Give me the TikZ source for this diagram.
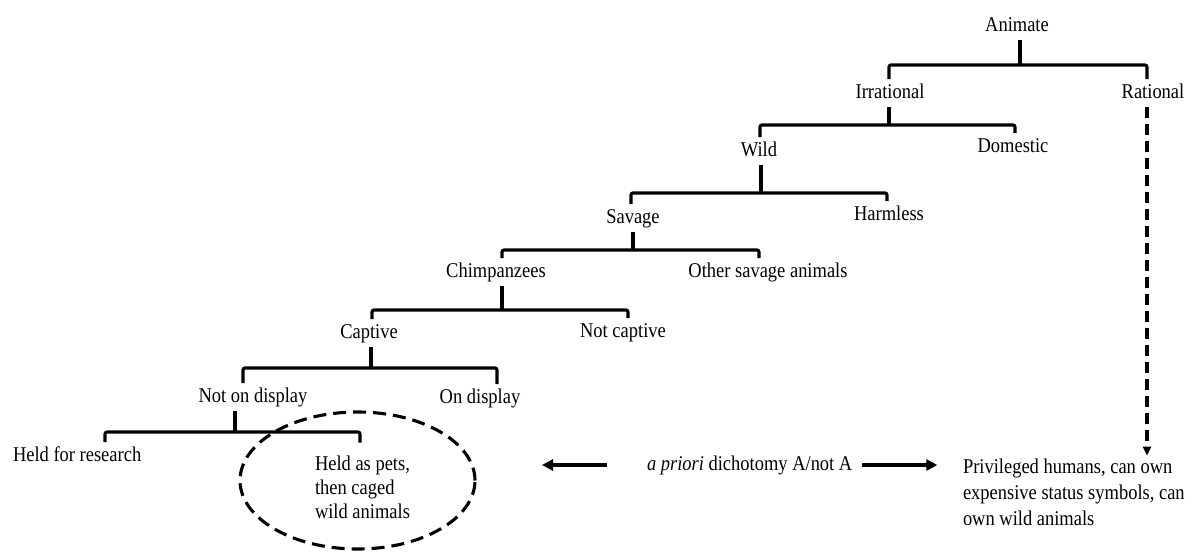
\documentclass[tikz,border=0pt]{standalone}
\usepackage{fontspec}
\setmainfont{Liberation Serif}[FakeStretch=0.88]
\usetikzlibrary{arrows.meta,shapes.geometric}
\begin{document}
\begin{tikzpicture}[x=1pt,y=-1pt,
  lab/.style={font=\fontsize{21}{25}\selectfont, inner xsep=0pt, inner ysep=4pt,
    outer sep=0pt, text height=15pt, text depth=5pt, anchor=base},
  multi/.style={font=\fontsize{21}{#1}\selectfont, align=left, inner xsep=0pt,
    outer sep=0pt, anchor=north west},
  tree/.style={line width=3.1pt, rounded corners=2pt},
  dashline/.style={line width=3.2pt, dash pattern=on 11pt off 6pt},
  dashring/.style={draw, ellipse, line width=3.1pt, dash pattern=on 13pt off 7pt,
    inner sep=0pt, minimum width=235pt, minimum height=137pt},
  bigarrow/.style={line width=3.2pt, -{Triangle[length=11pt,width=11pt]}},
  smallarrow/.style={-{Triangle[length=9pt,width=8pt]}}
]
\path[use as bounding box] (0,0) rectangle (1195,552);

% labels
\node[lab] (ani)   at (1017,31)  {Animate};
\node[lab] (irr)   at (890,98)   {Irrational};
\node[lab] (rat)   at (1153,98)  {Rational};
\node[lab] (wild)  at (759,156)  {Wild};
\node[lab] (dom)   at (1013,152) {Domestic};
\node[lab] (sav)   at (633,223)  {Savage};
\node[lab] (harm)  at (889,220)  {Harmless};
\node[lab] (chimp) at (496,277)  {Chimpanzees};
\node[lab] (osa)   at (768,277)  {Other savage animals};
\node[lab] (capt)  at (369,338)  {Captive};
\node[lab] (ncap)  at (623,337)  {Not captive};
\node[lab] (nod)   at (253,402)  {Not on display};
\node[lab] (ond)   at (480,403)  {On display};
\node[lab, anchor=base west] (hfr) at (13,461) {Held for research};
\node[multi=24, inner ysep=13pt] (hap) at (315,442.5)
  {Held as pets,\\then caged\\wild animals};
\node[lab, anchor=base west] (apr) at (647,470) {\textit{a priori} dichotomy A/not A};
\node[multi=26, inner ysep=3pt] (priv) at (963,455.7)
  {Privileged humans, can own\\expensive status symbols, can\\own wild animals};

% junctions and bar ends
\coordinate (j1) at (1020,65);  \coordinate (l1) at (889,65);  \coordinate (r1) at (1147,65);
\coordinate (j2) at (889,125);  \coordinate (l2) at (760,125); \coordinate (r2) at (1015,125);
\coordinate (j3) at (761,193);  \coordinate (l3) at (631,193); \coordinate (r3) at (887,193);
\coordinate (j4) at (633,250);  \coordinate (l4) at (502,250); \coordinate (r4) at (759,250);
\coordinate (j5) at (502,310);  \coordinate (l5) at (372,310); \coordinate (r5) at (628,310);
\coordinate (j6) at (371,368);  \coordinate (l6) at (243,368); \coordinate (r6) at (497,368);
\coordinate (j7) at (235,432);  \coordinate (l7) at (105,432); \coordinate (r7) at (360,432);

% tree connectors
\draw[tree] (ani.south -| j1) -- (j1);
\draw[tree] (irr.north -| l1) |- (j1) -| (rat.north -| r1);
\draw[tree] (irr.south -| j2) -- (j2);
\draw[tree] (wild.north -| l2) |- (j2) -| (dom.north -| r2);
\draw[tree] (wild.south -| j3) -- (j3);
\draw[tree] (sav.north -| l3) |- (j3) -| (harm.north -| r3);
\draw[tree] (sav.south -| j4) -- (j4);
\draw[tree] (chimp.north -| l4) |- (j4) -| (osa.north -| r4);
\draw[tree] (chimp.south -| j5) -- (j5);
\draw[tree] (capt.north -| l5) |- (j5) -| (ncap.north -| r5);
\draw[tree] (capt.south -| j6) -- (j6);
\draw[tree] (nod.north -| l6) |- (j6) -| (ond.north -| r6);
\draw[tree] (nod.south -| j7) -- (j7);
\draw[tree] (hfr.north -| l7) |- (j7) -| (hap.north -| r7);

% dashed rational arrow
\draw[dashline, smallarrow] (rat.south -| r1) -- (priv.north -| r1);

% dashed ellipse
\node[dashring] (ring) at (357.5,480.5) {};

% dichotomy arrows
\draw[bigarrow] ([xshift=-40pt]apr.west) -- ([xshift=-105pt]apr.west);
\draw[bigarrow] ([xshift=10pt]apr.east) -- ([xshift=85pt]apr.east);
\end{tikzpicture}
\end{document}
